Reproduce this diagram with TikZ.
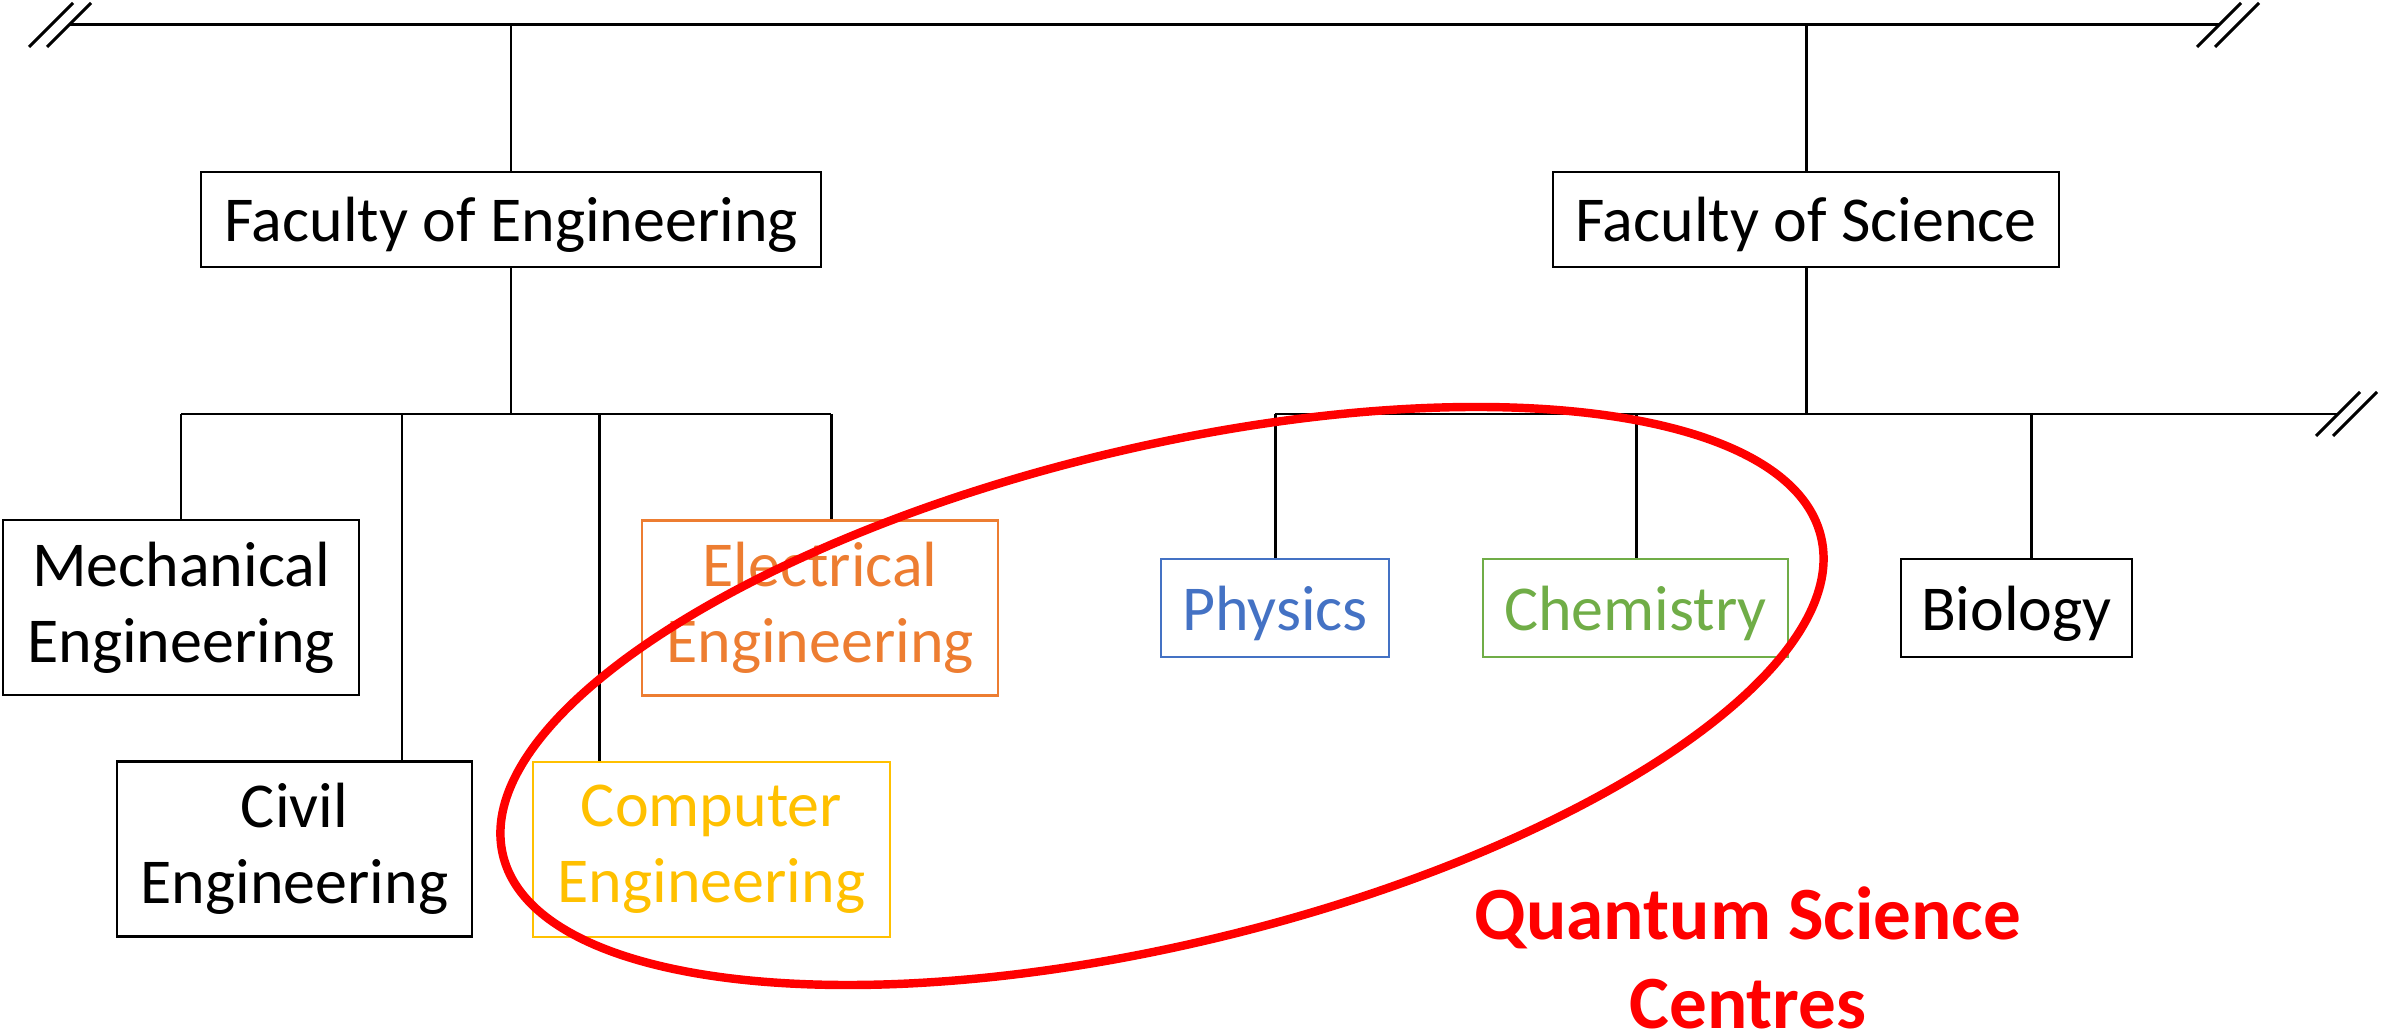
\documentclass[tikz,border=0pt]{standalone}
\usepackage{fontspec}
\setmainfont{Carlito}

\definecolor{elecorange}{HTML}{ED7D31}
\definecolor{compgold}{HTML}{FFC000}
\definecolor{physblue}{HTML}{4472C4}
\definecolor{chemgreen}{HTML}{70AD47}
\definecolor{qred}{HTML}{FF0000}

\begin{document}
\begin{tikzpicture}[line join=miter]

% --- Styles ---
\tikzset{
    link/.style={
        draw=black,
        line width=0.85pt
    },
    breakline/.style={
        draw=black,
        line width=0.85pt
    },
    unitbox/.style={
        draw=black,
        line width=0.75pt,
        inner sep=0pt,
        align=center,
        font=\fontsize{18.2}{21.6}\selectfont,
        execute at begin node={\rule{0pt}{15.7pt}}
    },
    facultybox/.style={
        unitbox,
        minimum height=0.95cm
    },
    deptbig/.style={
        unitbox,
        minimum width=3.56cm,
        minimum height=1.75cm
    },
    deptsmall/.style={
        unitbox,
        minimum height=0.98cm
    },
    quantumring/.style={
        draw=qred,
        line width=2.4pt
    },
    quantumlabel/.style={
        text=qred,
        align=center,
        font=\fontsize{21.4}{25.3}\selectfont\bfseries
    }
}

\useasboundingbox (0,0) rectangle (23.84,-10.34);

% =========================================================
% --- Bovenste lijn met onderbrekingen ---
% =========================================================
\coordinate (topL) at (0.69,-0.25);
\coordinate (topR) at (22.19,-0.25);

\draw[link] (topL) -- (topR);

\draw[breakline] (topL) ++(-0.22,-0.22) -- ++(0.44,0.44);
\draw[breakline] (topL) ++(-0.40,-0.22) -- ++(0.44,0.44);
\draw[breakline] (topR) ++(-0.22,-0.22) -- ++(0.44,0.44);
\draw[breakline] (topR) ++(-0.04,-0.22) -- ++(0.44,0.44);

% =========================================================
% --- Faculteiten ---
% =========================================================
\node[facultybox, minimum width=6.20cm] (foe) at (5.11,-2.195) {Faculty of Engineering};
\node[facultybox, minimum width=5.06cm] (fos) at (18.06,-2.195) {Faculty of Science};

\draw[link] (foe.north) -- (foe.north |- topL);
\draw[link] (fos.north) -- (fos.north |- topL);

% =========================================================
% --- Engineering departementen ---
% =========================================================
\node[deptbig] (mech) at (1.81,-6.075) {Mechanical\\Engineering};
\node[deptbig, minimum width=3.55cm] (civil) at (2.945,-8.49) {Civil\\Engineering};
\node[deptbig, draw=elecorange, text=elecorange] (elec) at (8.20,-6.08) {Electrical\\Engineering};
\node[deptbig, minimum width=3.57cm, draw=compgold, text=compgold] (comp) at (7.115,-8.495) {Computer\\Engineering};

\coordinate (dMech) at (1.81,-4.14);
\coordinate (dCivil) at (4.02,-4.14);
\coordinate (dComp) at (5.99,-4.14);
\coordinate (dElec) at (8.31,-4.14);

\draw[link] (foe.south) -- (foe.south |- dMech);
\draw[link] (dMech) -- (dElec);

\draw[link] (dMech) -- (dMech |- mech.north);
\draw[link] (dCivil) -- (dCivil |- civil.north);
\draw[link] (dComp) -- (dComp |- comp.north);
\draw[link] (dElec) -- (dElec |- elec.north);

% =========================================================
% --- Science departementen ---
% =========================================================
\node[deptsmall, minimum width=2.28cm, draw=physblue, text=physblue] (phys) at (12.75,-6.08) {Physics};
\node[deptsmall, minimum width=3.05cm, draw=chemgreen, text=chemgreen] (chem) at (16.355,-6.08) {Chemistry};
\node[deptsmall, minimum width=2.31cm] (bio) at (20.165,-6.08) {Biology};

\coordinate (dPhys) at (12.75,-4.14);
\coordinate (dChem) at (16.36,-4.14);
\coordinate (dBio) at (20.31,-4.14);
\coordinate (sciR) at (23.38,-4.14);

\draw[link] (fos.south) -- (fos.south |- dPhys);
\draw[link] (dPhys) -- (sciR);

\draw[breakline] (sciR) ++(-0.22,-0.22) -- ++(0.44,0.44);
\draw[breakline] (sciR) ++(-0.05,-0.22) -- ++(0.44,0.44);

\draw[link] (dPhys) -- (dPhys |- phys.north);
\draw[link] (dChem) -- (dChem |- chem.north);
\draw[link] (dBio) -- (dBio |- bio.north);

% =========================================================
% --- Quantum Science Centres ---
% =========================================================
\coordinate (ringC) at (11.62,-6.96);
\draw[quantumring, rotate around={13.6:(ringC)}]
    (ringC) ellipse [x radius=6.78, y radius=2.48];

\node[quantumlabel] (qsc) at (17.48,-9.58) {Quantum Science\\Centres};

\end{tikzpicture}
\end{document}
